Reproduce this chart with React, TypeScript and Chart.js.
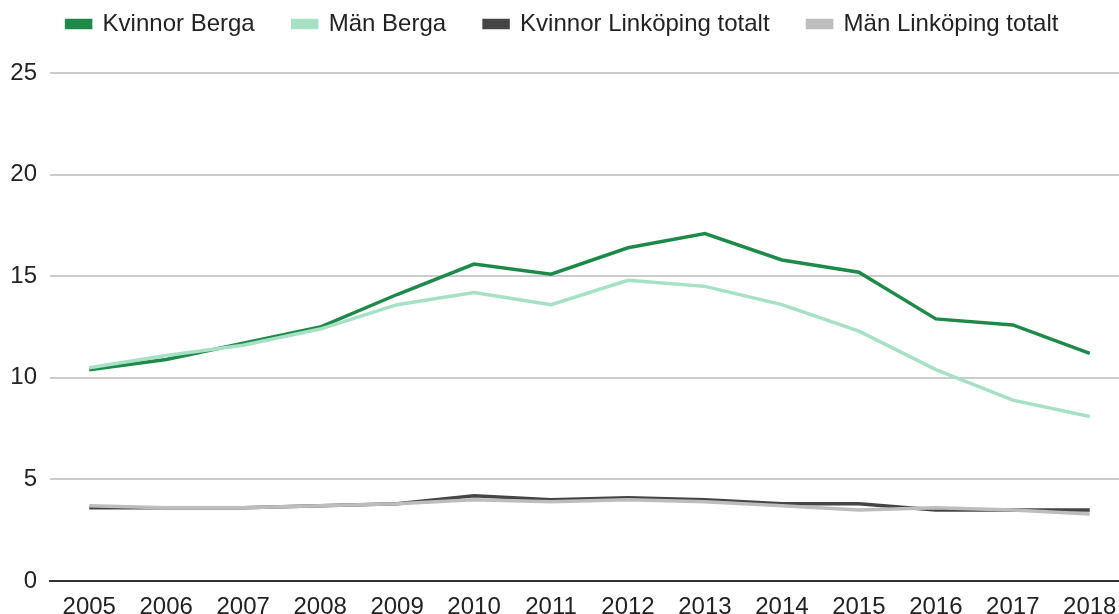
import React, { useEffect, useRef } from "react";
import { Chart, registerables } from "chart.js";

Chart.register(...registerables);

const years = [2005, 2006, 2007, 2008, 2009, 2010, 2011, 2012, 2013, 2014, 2015, 2016, 2017, 2018];
const kvinnorBerga = [10.4, 10.9, 11.7, 12.5, 14.1, 15.6, 15.1, 16.4, 17.1, 15.8, 15.2, 12.9, 12.6, 11.2];
const manBerga = [10.5, 11.1, 11.6, 12.4, 13.6, 14.2, 13.6, 14.8, 14.5, 13.6, 12.3, 10.4, 8.9, 8.1];
const kvinnorLkpg = [3.6, 3.6, 3.6, 3.7, 3.8, 4.2, 4.0, 4.1, 4.0, 3.8, 3.8, 3.5, 3.5, 3.5];
const manLkpg = [3.7, 3.6, 3.6, 3.7, 3.8, 4.0, 3.9, 4.0, 3.9, 3.7, 3.5, 3.6, 3.5, 3.3];
const yTicks = [0, 5, 10, 15, 20, 25];

const seriesNames = ["Kvinnor Berga", "Män Berga", "Kvinnor Linköping totalt", "Män Linköping totalt"];
const seriesColors = ["#1e8a4a", "#a6e0c5", "#454545", "#bdbdbd"];

const FONT = "'Liberation Sans', Arial, sans-serif";

export default function App() {
  const ref = useRef<HTMLCanvasElement | null>(null);

  useEffect(() => {
    if (!ref.current) return;
    const allSeries = [kvinnorBerga, manBerga, kvinnorLkpg, manLkpg];
    const chart = new Chart(ref.current, {
      type: "line",
      data: {
        datasets: allSeries.map((vals, i) => ({
          label: seriesNames[i],
          data: years.map((y, j) => ({ x: y, y: vals[j] })),
          borderColor: seriesColors[i],
          backgroundColor: seriesColors[i],
          borderWidth: 3.5,
          pointRadius: 0,
          tension: 0,
          order: 10 - i,
        })),
      },
      options: {
        animation: false,
        responsive: true,
        maintainAspectRatio: false,
        layout: { padding: { left: 6, right: 0, top: -26, bottom: 0 } },
        plugins: {
          tooltip: { enabled: false },
          legend: {
            position: "top",
            align: "center",
            labels: {
              sort: (a: any, b: any) => a.datasetIndex - b.datasetIndex,
              boxWidth: 24,
              boxHeight: 7,
              padding: 38,
              color: "#222",
              font: { family: FONT, size: 24 },
            },
          },
        },
        scales: {
          x: {
            type: "linear",
            min: 2004.49,
            max: 2018.38,
            afterBuildTicks: (scale: any) => {
              scale.ticks = years.map((v) => ({ value: v }));
            },
            afterFit: (scale: any) => {
              scale.height = 33;
              scale.paddingLeft = 0;
              scale.paddingRight = 0;
            },
            grid: { display: false, drawTicks: false },
            border: { display: true, color: "#333", width: 2 },
            ticks: {
              padding: 12,
              color: "#222",
              font: { family: FONT, size: 24 },
              callback: (v: any) => String(v),
              maxRotation: 0,
              autoSkip: false,
            },
          },
          y: {
            min: 0,
            max: 26.33,
            afterBuildTicks: (scale: any) => {
              scale.ticks = yTicks.map((v) => ({ value: v }));
            },
            afterFit: (scale: any) => {
              scale.width = 44;
            },
            grid: {
              color: "#cccccc",
              lineWidth: 2,
              drawTicks: false,
            },
            border: { display: false },
            ticks: {
              padding: 13,
              color: "#222",
              font: { family: FONT, size: 24 },
            },
          },
        },
      },
    });
    return () => chart.destroy();
  }, []);

  return (
    <div style={{ position: "absolute", left: 0, top: 0, width: 1119, height: 614, background: "#fff" }}>
      <canvas ref={ref} />
    </div>
  );
}
